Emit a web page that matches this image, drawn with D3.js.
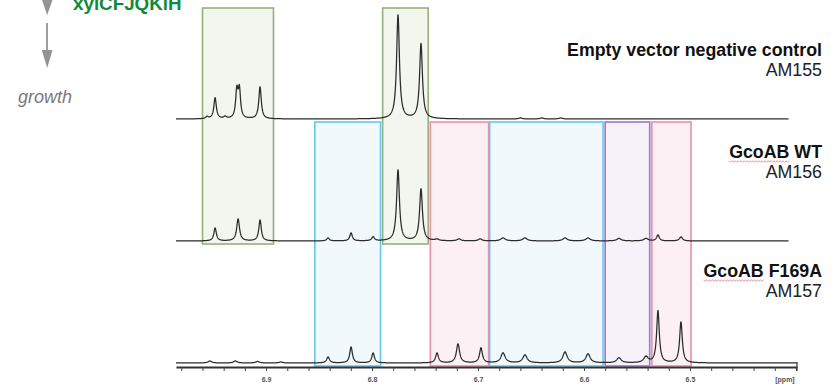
<!DOCTYPE html>
<html>
<head>
<meta charset="utf-8">
<script src="https://cdn.jsdelivr.net/npm/d3@7/dist/d3.min.js"></script>
<style>
  html, body { margin: 0; padding: 0; background: #fff; }
  svg { display: block; font-family: "Liberation Sans", Arial, sans-serif; }
</style>
</head>
<body>
<div id="chart"></div>
<script>
// ---------------- DATA ----------------
// Spectra (top to bottom) and their labels
const sampleTitles = ["Empty vector negative control", "GcoAB WT", "GcoAB F169A"];
const sampleIds = ["AM155", "AM156", "AM157"];
const underlinedWord = ["", "GcoAB", "GcoAB"];

// Peak lists: [chemical shift (ppm), intensity (a.u.), half-width (ppm)]
const peaksAM155 = [
  [6.9557, 2, 0.0015], [6.9481, 21, 0.0014], [6.9387, 2, 0.0015],
  [6.9276, 27, 0.0013], [6.9252, 28, 0.0013], [6.9057, 32, 0.0014],
  [6.7755, 104, 0.0016], [6.7538, 75, 0.0016],
  [6.660, 1, 0.002], [6.640, 1, 0.002], [6.622, 1, 0.002]
];
const peaksAM156 = [
  [6.9481, 13, 0.0014], [6.9264, 22, 0.0016], [6.9057, 21, 0.0014],
  [6.8415, 3, 0.0015], [6.8198, 8, 0.0014], [6.7990, 4, 0.0015],
  [6.7755, 71, 0.0016], [6.7538, 52, 0.0016],
  [6.7387, 1.5, 0.002], [6.7180, 2, 0.002], [6.6980, 2, 0.002],
  [6.6764, 3, 0.0025], [6.6557, 3, 0.0025], [6.6179, 3, 0.0025], [6.5962, 3, 0.0025],
  [6.5670, 2.5, 0.0025], [6.5415, 2.5, 0.0025],
  [6.5302, 6, 0.0015], [6.5085, 4, 0.0018]
];
const peaksAM157 = [
  [6.9530, 2, 0.002], [6.9290, 2, 0.002], [6.9080, 1.5, 0.002], [6.8860, 1, 0.002],
  [6.8415, 6, 0.0016], [6.8198, 16, 0.0015], [6.7990, 10, 0.0015],
  [6.7387, 10, 0.0016], [6.7189, 19, 0.0018], [6.6972, 15, 0.0016],
  [6.6764, 10, 0.0024], [6.6557, 8, 0.0024], [6.6179, 11, 0.0024], [6.5962, 9, 0.0024],
  [6.5670, 5, 0.0025], [6.5415, 6, 0.0025],
  [6.5302, 52, 0.0015], [6.5085, 41, 0.0015]
];
const spectra = [peaksAM155, peaksAM156, peaksAM157];
const spectrumEnds = [6.407, 6.407, 6.399];

// Highlighted regions: ppm range, colour group, spectra spanned (first, last)
const regionFrom = [6.960, 6.790, 6.854, 6.745, 6.689, 6.580, 6.536];
const regionTo   = [6.893, 6.747, 6.792, 6.690, 6.582, 6.538, 6.499];
const regionKind = ["green", "green", "blue", "pink", "blue", "purple", "pink"];
const regionRows = [[0, 1], [0, 1], [0, 2], [0, 2], [0, 2], [0, 2], [0, 2]];

// Axis
const ppmDomain = [6.985, 6.399];
const minorTicks = d3.range(320, 350).map(i => i / 50);   // every 0.02 ppm
const labelledTicks = [6.5, 6.6, 6.7, 6.8, 6.9];
const axisUnit = "[ppm]";

// Left annotation
const geneLabel = "xylCFJQKlH";
const growthLabel = "growth";

// ---------------- STYLE ----------------
const W = 837, H = 391;
const baselines = [119, 241, 363];
const kindStyle = {
  green:  { stroke: "#93b27a", fill: "#f3f5ef" },
  blue:   { stroke: "#62c8f3", fill: "#f1f9fd" },
  pink:   { stroke: "#e98fac", fill: "#fdf0f5" },
  purple: { stroke: "#9d76c6", fill: "#f7f2fa" }
};

const svg = d3.select("#chart").append("svg")
  .attr("width", W).attr("height", H);

const x = d3.scaleLinear().domain(ppmDomain).range([176, 797]);
const yScales = baselines.map(b => d3.scaleLinear().domain([0, 100]).range([b, b - 100]));

// ---------------- REGIONS ----------------
const gReg = svg.append("g");
regionFrom.forEach((f, i) => {
  const st = kindStyle[regionKind[i]];
  const [r0, r1] = regionRows[i];
  const top = regionKind[i] === "green" ? yScales[r0](111) : yScales[r0](-3);
  const bottom = yScales[r1](-3);
  const x0 = x(f), x1 = x(regionTo[i]);
  gReg.append("rect")
    .attr("x", x0).attr("y", top)
    .attr("width", x1 - x0).attr("height", bottom - top)
    .attr("fill", st.fill).attr("stroke", st.stroke).attr("stroke-width", 1.6);
});

// ---------------- SPECTRA ----------------
function intensity(peaks, p) {
  let s = 0;
  for (const [c, h, w] of peaks) {
    const u = (p - c) / w;
    s += h / (1 + u * u);
  }
  return s;
}
spectra.forEach((peaks, k) => {
  const n = Math.round((ppmDomain[0] - spectrumEnds[k]) / 0.0002);
  const pts = d3.range(n + 1).map(i => {
    const p = ppmDomain[0] - i * 0.0002;
    return [p, intensity(peaks, p)];
  });
  const line = d3.line().x(d => x(d[0])).y(d => yScales[k](d[1]));
  svg.append("path").datum(pts)
    .attr("d", line)
    .attr("fill", "none")
    .attr("stroke", "#2b2b2b")
    .attr("stroke-width", 1.25)
    .attr("stroke-linejoin", "round");
});

// ---------------- AXIS ----------------
const axisY = 367;
const isLabelled = d => labelledTicks.some(t => Math.abs(t - d) < 1e-6);
const axis = d3.axisBottom(x)
  .tickValues(minorTicks)
  .tickSize(4)
  .tickSizeOuter(0)
  .tickPadding(6)
  .tickFormat(d => (isLabelled(d) ? d3.format(".1f")(d) : ""));
const gAx = svg.append("g").attr("transform", `translate(0,${axisY})`).call(axis);
gAx.select(".domain").attr("stroke", "#333").attr("stroke-width", 1.8);
gAx.selectAll(".tick line").attr("stroke", "#444").attr("stroke-width", 1);
gAx.selectAll(".tick text")
  .attr("font-size", 7).attr("font-weight", "bold").attr("fill", "#555")
  .attr("font-family", "Liberation Sans, Arial, sans-serif");
gAx.append("line")
  .attr("x1", x(ppmDomain[1])).attr("x2", x(ppmDomain[1]))
  .attr("y1", -5).attr("y2", 4)
  .attr("stroke", "#333").attr("stroke-width", 1.2);
gAx.append("text")
  .attr("x", 785).attr("y", 10).attr("dy", "0.71em")
  .attr("text-anchor", "middle")
  .attr("font-size", 7).attr("font-weight", "bold").attr("fill", "#555")
  .text(axisUnit);

// ---------------- LABELS ----------------
const labelX = 822;
const titleY = [56, 158, 277];
const labelSize = 17.8;
sampleTitles.forEach((t, i) => {
  const tt = svg.append("text")
    .attr("x", labelX).attr("y", titleY[i])
    .attr("text-anchor", "end")
    .attr("font-size", labelSize).attr("font-weight", "bold").attr("fill", "#111")
    .text(t);
  svg.append("text")
    .attr("x", labelX).attr("y", titleY[i] + 20)
    .attr("text-anchor", "end")
    .attr("font-size", labelSize).attr("fill", "#222")
    .text(sampleIds[i]);
  if (underlinedWord[i]) {
    const node = tt.node();
    const total = node.getComputedTextLength();
    const wlen = node.getSubStringLength(0, underlinedWord[i].length);
    const x0 = labelX - total, x1 = x0 + wlen;
    const uy = titleY[i] + 3.5;
    const pts = [];
    for (let xx = x0, j = 0; xx <= x1; xx += 1.5, j++) pts.push([xx, uy + (j % 2 ? 0.8 : -0.8)]);
    svg.append("path").attr("d", d3.line()(pts))
      .attr("fill", "none").attr("stroke", "#e8909c").attr("stroke-width", 0.9);
  }
});

// ---------------- LEFT ANNOTATION ----------------
svg.append("text")
  .attr("x", 73).attr("y", 10)
  .attr("font-size", 18.8).attr("font-weight", "bold").attr("fill", "#13893a")
  .text(geneLabel);

const arrowCol = "#939393";
// upper arrow (head only visible)
svg.append("line").attr("x1", 47).attr("x2", 47).attr("y1", -10).attr("y2", 4)
  .attr("stroke", arrowCol).attr("stroke-width", 1.8);
svg.append("path").attr("d", "M42,0 L52.5,0 L47.2,15 Z").attr("fill", arrowCol);
// lower arrow
svg.append("line").attr("x1", 47).attr("x2", 47).attr("y1", 23).attr("y2", 54)
  .attr("stroke", arrowCol).attr("stroke-width", 1.8);
svg.append("path").attr("d", "M41.8,50 L52.5,50 L47.2,68 Z").attr("fill", arrowCol);

svg.append("text")
  .attr("x", 18).attr("y", 103)
  .attr("font-size", 18).attr("font-style", "italic").attr("fill", "#7a7a7a")
  .text(growthLabel);
</script>
</body>
</html>
